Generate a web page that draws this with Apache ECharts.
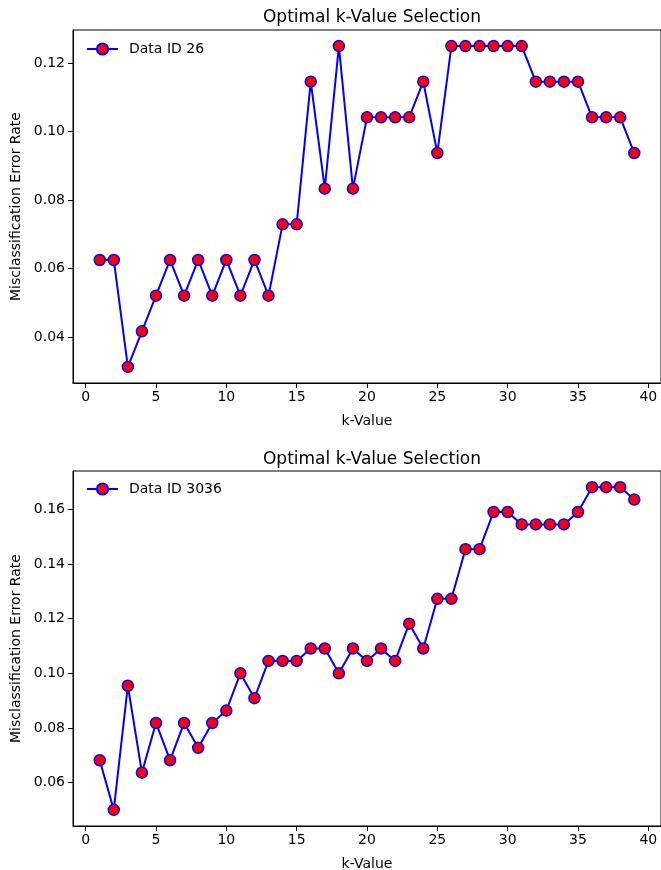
<!DOCTYPE html>
<html>
<head>
<meta charset="utf-8">
<script src="https://cdn.jsdelivr.net/npm/echarts@6/dist/echarts.min.js"></script>
<style>
  html, body { margin: 0; padding: 0; background: #fff; }
  #chart { width: 661px; height: 870px; }
</style>
</head>
<body>
<div id="chart"></div>
<script>
// k values 1..39
var kValues = [];
for (var k = 1; k <= 39; k++) kValues.push(k);

// error rates
var errId26 = [
  0.0625, 0.0625, 0.03125, 0.041667, 0.052083, 0.0625, 0.052083, 0.0625, 0.052083, 0.0625,
  0.052083, 0.0625, 0.052083, 0.072917, 0.072917, 0.114583, 0.083333, 0.125, 0.083333, 0.104167,
  0.104167, 0.104167, 0.104167, 0.114583, 0.09375, 0.125, 0.125, 0.125, 0.125, 0.125,
  0.125, 0.114583, 0.114583, 0.114583, 0.114583, 0.104167, 0.104167, 0.104167, 0.09375
];
var errId3036 = [
  0.068182, 0.05, 0.095455, 0.063636, 0.081818, 0.068182, 0.081818, 0.072727, 0.081818, 0.086364,
  0.1, 0.090909, 0.104545, 0.104545, 0.104545, 0.109091, 0.109091, 0.1, 0.109091, 0.104545,
  0.109091, 0.104545, 0.118182, 0.109091, 0.127273, 0.127273, 0.145455, 0.145455, 0.159091, 0.159091,
  0.154545, 0.154545, 0.154545, 0.154545, 0.159091, 0.168182, 0.168182, 0.168182, 0.163636
];

var xTicks = [0, 5, 10, 15, 20, 25, 30, 35, 40];
var yTicksTop = [0.04, 0.06, 0.08, 0.10, 0.12];
var yTicksBottom = [0.06, 0.08, 0.10, 0.12, 0.14, 0.16];

var font = 'DejaVu Sans';
var chart = echarts.init(document.getElementById('chart'));

function pairs(ys) {
  return kValues.map(function (k, i) { return [k, ys[i]]; });
}

function xAxis(gridIndex) {
  return {
    type: 'value', gridIndex: gridIndex, min: -0.9, max: 40.9,
    name: 'k-Value', nameLocation: 'middle', nameGap: 31,
    nameTextStyle: { color: '#000', fontSize: 14, fontFamily: font },
    axisLine: { show: true, onZero: false, lineStyle: { color: '#000', width: 1 } },
    axisTick: { show: true, length: 5, customValues: xTicks, lineStyle: { color: '#000' } },
    axisLabel: { customValues: xTicks, color: '#000', fontSize: 14, fontFamily: font, margin: 7 },
    splitLine: { show: false }
  };
}

function yAxis(gridIndex, min, max, ticks) {
  return {
    type: 'value', gridIndex: gridIndex, min: min, max: max,
    name: 'Misclassification Error Rate', nameLocation: 'middle', nameGap: 46,
    nameTextStyle: { color: '#000', fontSize: 14, fontFamily: font },
    axisLine: { show: true, onZero: false, lineStyle: { color: '#000', width: 1 } },
    axisTick: { show: true, length: 5, customValues: ticks, lineStyle: { color: '#000' } },
    axisLabel: {
      customValues: ticks, color: '#000', fontSize: 14, fontFamily: font, margin: 8,
      formatter: function (v) { return v.toFixed(2); }
    },
    splitLine: { show: false }
  };
}

function lineSeries(name, idx, ys) {
  return {
    name: name, type: 'line', xAxisIndex: idx, yAxisIndex: idx,
    data: pairs(ys),
    symbol: 'circle', symbolSize: 11,
    lineStyle: { color: '#0000ff', width: 2 },
    itemStyle: { color: '#ff0000', borderColor: '#0000ff', borderWidth: 1.5 },
    emphasis: { disabled: true },
    animation: false
  };
}

var option = {
  animation: false,
  title: [
    { text: 'Optimal k-Value Selection', left: 367, top: 4, textAlign: 'center',
      textStyle: { fontSize: 17, fontWeight: 'normal', color: '#000', fontFamily: font } },
    { text: 'Optimal k-Value Selection', left: 367, top: 446, textAlign: 'center',
      textStyle: { fontSize: 17, fontWeight: 'normal', color: '#000', fontFamily: font } }
  ],
  legend: [
    { data: ['Data ID 26'], left: 86, top: 42, padding: 0, itemWidth: 31, itemHeight: 14,
      textStyle: { fontSize: 14, fontFamily: font, color: '#000', padding: [0, 0, 0, 6] } },
    { data: ['Data ID 3036'], left: 86, top: 482, padding: 0, itemWidth: 31, itemHeight: 14,
      textStyle: { fontSize: 14, fontFamily: font, color: '#000', padding: [0, 0, 0, 6] } }
  ],
  grid: [
    { left: 73, top: 30, width: 588, height: 353, outerBoundsMode: 'none', containLabel: false,
      show: true, borderColor: '#000', borderWidth: 1, backgroundColor: 'transparent' },
    { left: 73, top: 471, width: 588, height: 355, outerBoundsMode: 'none', containLabel: false,
      show: true, borderColor: '#000', borderWidth: 1, backgroundColor: 'transparent' }
  ],
  xAxis: [xAxis(0), xAxis(1)],
  yAxis: [
    yAxis(0, 0.0265625, 0.1296875, yTicksTop),
    yAxis(1, 0.0440909, 0.1740909, yTicksBottom)
  ],
  series: [
    lineSeries('Data ID 26', 0, errId26),
    lineSeries('Data ID 3036', 1, errId3036)
  ]
};

chart.setOption(option);
</script>
</body>
</html>
